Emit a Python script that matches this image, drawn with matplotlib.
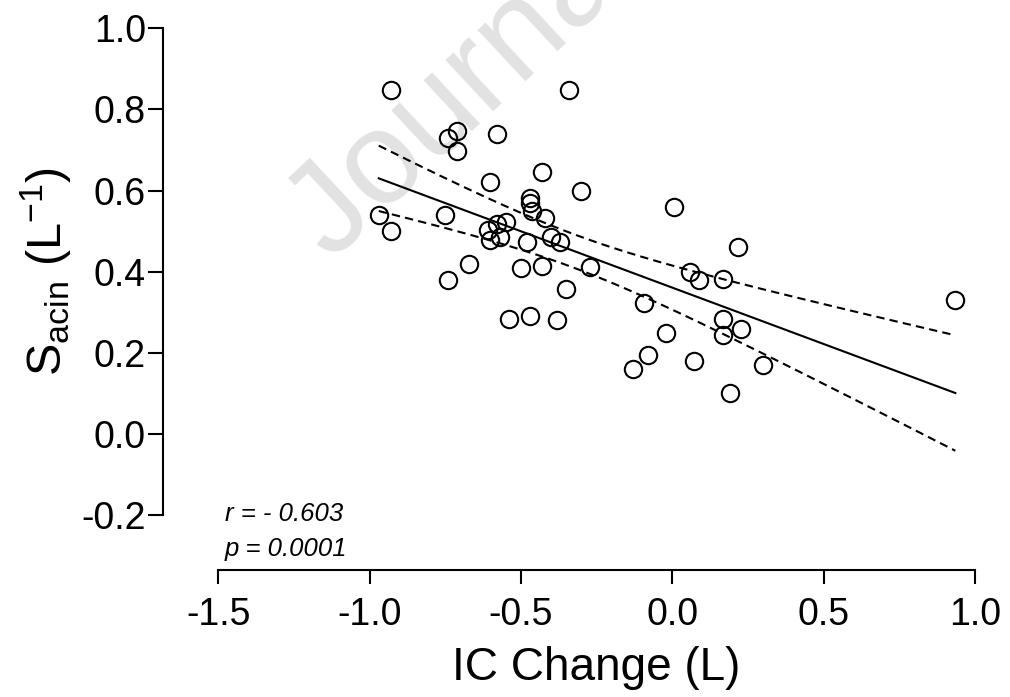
import numpy as np
import matplotlib
matplotlib.use("Agg")
import matplotlib.pyplot as plt

plt.rcParams['font.family'] = ['Liberation Sans', 'DejaVu Sans']
plt.rcParams['mathtext.fontset'] = 'custom'
plt.rcParams['mathtext.rm'] = 'Liberation Sans'
plt.rcParams['mathtext.it'] = 'Liberation Sans:italic'
plt.rcParams['axes.unicode_minus'] = False

# IC change (L) vs S_acin (L^-1)
ic_change = [-0.930, -0.342, -0.710, -0.742, -0.712, -0.580, -0.430, -0.601,
             -0.301, -0.470, -0.470, -0.463, -0.420, 0.006, -0.970, -0.751,
             -0.930, -0.550, -0.580, -0.609, -0.571, -0.602, -0.481, -0.401,
             -0.371, -0.272, -0.672, -0.742, -0.500, -0.430, -0.352, -0.092,
             -0.540, -0.471, -0.382, -0.020, 0.218, 0.059, 0.088, 0.169,
             0.935, 0.169, 0.228, 0.169, -0.081, -0.131, 0.070, 0.298, 0.189]
s_acin = [0.848, 0.848, 0.746, 0.729, 0.698, 0.739, 0.645, 0.621,
          0.600, 0.581, 0.570, 0.549, 0.532, 0.559, 0.540, 0.539,
          0.501, 0.522, 0.517, 0.502, 0.486, 0.478, 0.472, 0.486,
          0.474, 0.411, 0.418, 0.379, 0.409, 0.415, 0.357, 0.322,
          0.284, 0.290, 0.280, 0.248, 0.460, 0.398, 0.379, 0.382,
          0.330, 0.283, 0.259, 0.243, 0.195, 0.160, 0.180, 0.170, 0.100]

x_ticks = [-1.5, -1.0, -0.5, 0.0, 0.5, 1.0]
y_ticks = [-0.2, 0.0, 0.2, 0.4, 0.6, 0.8, 1.0]
stats_text = ['r = - 0.603', 'p = 0.0001']
t_crit = 2.012  # 95% two-sided, df = n - 2

x = np.array(ic_change)
y = np.array(s_acin)
n = len(x)

# linear fit with 95% confidence band of the line
slope, intercept = np.polyfit(x, y, 1)
xs = np.linspace(x.min(), x.max(), 200)
ys = intercept + slope * xs
res = y - (intercept + slope * x)
s = np.sqrt(np.sum(res ** 2) / (n - 2))
sxx = np.sum((x - x.mean()) ** 2)
half = t_crit * s * np.sqrt(1.0 / n + (xs - x.mean()) ** 2 / sxx)

fig = plt.figure(figsize=(10.1, 6.97), dpi=100)
fig.patch.set_facecolor('white')

# faint watermark behind the plot
fig.text(332 / 1010, 1 - 262 / 697, 'Journal Pre-proof', fontsize=95,
         color='#e2e2e2', rotation=43, rotation_mode='anchor',
         ha='left', va='baseline', zorder=-1, clip_on=True)

xlo, xhi = -1.6818, 1.0165
ylo, yhi = -0.3356, 1.0
ax = fig.add_axes([163.3 / 1010, 1 - 570 / 697, (980 - 163.3) / 1010, (570 - 28.3) / 697])
ax.patch.set_visible(False)
ax.set_xlim(xlo, xhi)
ax.set_ylim(ylo, yhi)

ax.plot(xs, ys, color='black', lw=1.5)
ax.plot(xs, ys + half, color='black', lw=1.5, ls=(0, (4, 2.5)))
ax.plot(xs, ys - half, color='black', lw=1.5, ls=(0, (4, 2.5)))
ax.plot(x, y, 'o', ms=12.5, mfc='none', mec='black', mew=1.5)

for side in ['top', 'right']:
    ax.spines[side].set_visible(False)
for side in ['left', 'bottom']:
    ax.spines[side].set_linewidth(1.5)
ax.spines['left'].set_bounds(y_ticks[0], y_ticks[-1])
ax.spines['bottom'].set_bounds(x_ticks[0], x_ticks[-1])

ax.set_xticks(x_ticks)
ax.set_xticklabels(['%.1f' % v for v in x_ticks])
ax.set_yticks(y_ticks)
ax.set_yticklabels(['%.1f' % v for v in y_ticks])
ax.tick_params(axis='y', length=10.5, width=1.5, pad=2, labelsize=27)
ax.tick_params(axis='x', length=10, width=1.5, pad=9.5, labelsize=27)

ax.set_xlabel('IC Change (L)', fontsize=33, labelpad=9)
ax.set_ylabel(r'$\mathrm{S_{acin}\ (L^{-1})}$', fontsize=35, labelpad=5)
# centre the axis titles on the drawn spines
ax.xaxis.label.set_x(((x_ticks[0] + x_ticks[-1]) / 2 - xlo) / (xhi - xlo))
ax.yaxis.label.set_y(((y_ticks[0] + y_ticks[-1]) / 2 - ylo) / (yhi - ylo))

fig.text(225 / 1010, 1 - 521 / 697, stats_text[0], fontsize=18.5, style='italic')
fig.text(225 / 1010, 1 - 556 / 697, stats_text[1], fontsize=18.5, style='italic')

fig.savefig('out.png', dpi=100)
